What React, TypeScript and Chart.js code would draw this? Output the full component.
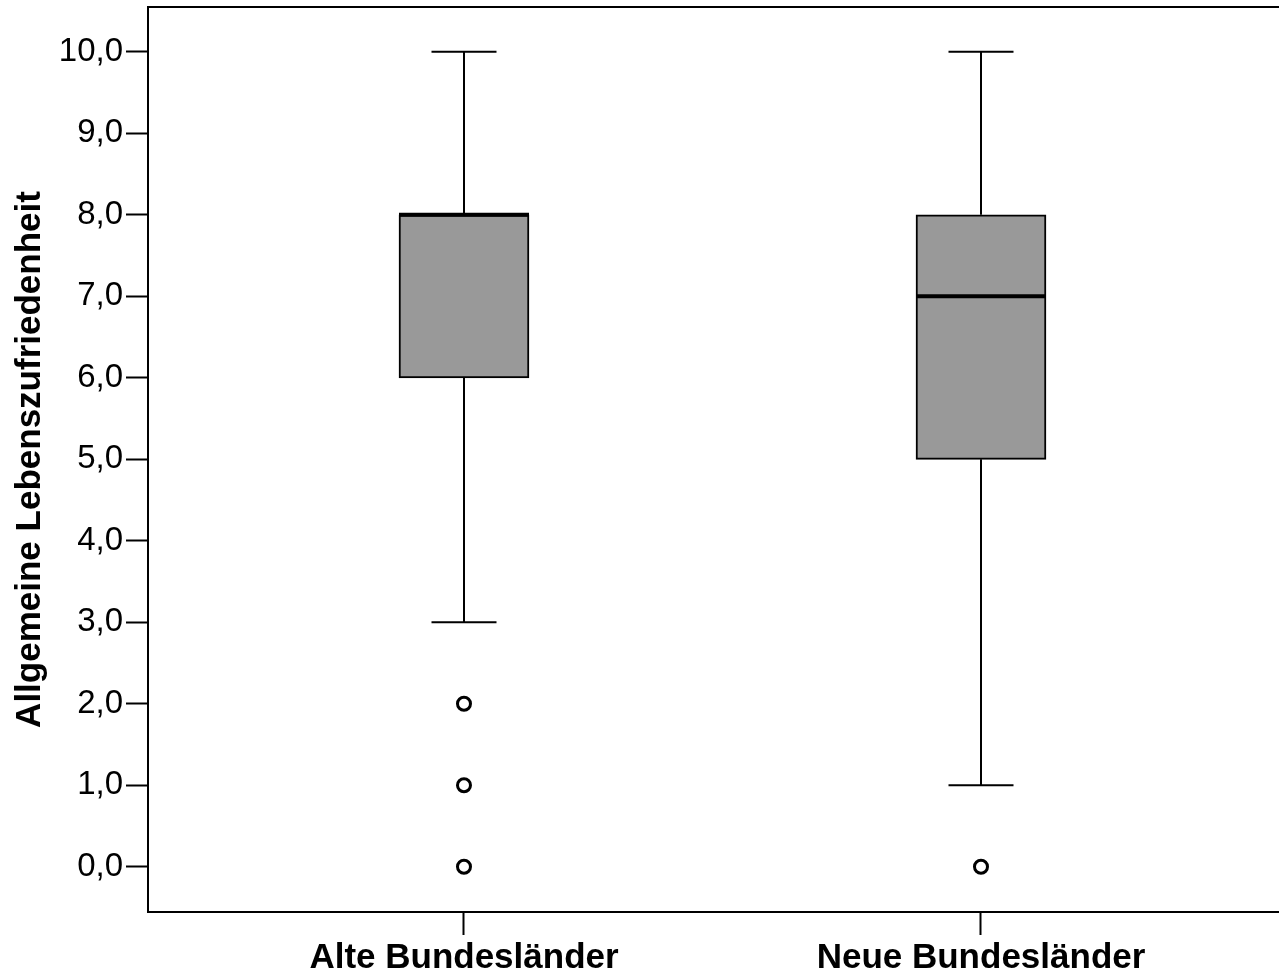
import { useEffect, useRef } from 'react';
import { Chart, registerables } from 'chart.js';

Chart.register(...registerables);

// Group labels and their positions on the x axis
const categories = ['Alte Bundesländer', 'Neue Bundesländer'];
const groupPositions = [1, 2];

// Box plot statistics per group
const whiskerLow = [3, 1];
const quartile1 = [6, 5];
const medians = [8, 7];
const quartile3 = [8, 8];
const whiskerHigh = [10, 10];

// Outliers per group
const outliersAlte = [2, 1, 0];
const outliersNeue = [0];

// Value axis ticks
const yTicks = [0, 1, 2, 3, 4, 5, 6, 7, 8, 9, 10];

const FONT = "'Liberation Sans', Arial, Helvetica, sans-serif";

// Drop the label-overflow padding so the plot area keeps its fixed size
const clearPadding = (s: any) => {
  s.paddingTop = 0;
  s.paddingBottom = 0;
  s.paddingLeft = 0;
  s.paddingRight = 0;
};

// Draws whiskers, caps, medians and the top frame line
const boxplotParts = {
  id: 'boxplotParts',
  afterDatasetsDraw(chart: any) {
    const { ctx, chartArea, scales } = chart;
    const x = scales.x;
    const y = scales.y;
    const boxes = chart.getDatasetMeta(0).data;
    ctx.save();
    ctx.strokeStyle = '#000';
    ctx.lineCap = 'butt';
    groupPositions.forEach((pos, i) => {
      const cx = Math.round(x.getPixelForValue(pos));
      const half = boxes[i].width / 2;
      const capHalf = half / 2;
      const yLow = y.getPixelForValue(whiskerLow[i]);
      const yQ1 = y.getPixelForValue(quartile1[i]);
      const yMed = y.getPixelForValue(medians[i]);
      const yQ3 = y.getPixelForValue(quartile3[i]);
      const yHigh = y.getPixelForValue(whiskerHigh[i]);

      ctx.lineWidth = 2;
      ctx.beginPath();
      ctx.moveTo(cx, yQ3);
      ctx.lineTo(cx, yHigh);
      ctx.moveTo(cx - capHalf, yHigh);
      ctx.lineTo(cx + capHalf, yHigh);
      ctx.moveTo(cx, yQ1);
      ctx.lineTo(cx, yLow);
      ctx.moveTo(cx - capHalf, yLow);
      ctx.lineTo(cx + capHalf, yLow);
      ctx.stroke();

      ctx.lineWidth = 4;
      ctx.beginPath();
      ctx.moveTo(cx - half, yMed);
      ctx.lineTo(cx + half, yMed);
      ctx.stroke();
    });

    ctx.lineWidth = 2;
    ctx.beginPath();
    ctx.moveTo(chartArea.left - 1, chartArea.top);
    ctx.lineTo(chartArea.right, chartArea.top);
    ctx.stroke();
    ctx.restore();
  },
};

export default function App() {
  const canvasRef = useRef<HTMLCanvasElement | null>(null);

  useEffect(() => {
    if (!canvasRef.current) return;
    Chart.defaults.font.family = FONT;

    const boxData = groupPositions.map((p, i) => ({ x: p, y: [quartile1[i], quartile3[i]] }));
    const outlierData = [
      ...outliersAlte.map((v) => ({ x: groupPositions[0], y: v })),
      ...outliersNeue.map((v) => ({ x: groupPositions[1], y: v })),
    ];

    const chart = new Chart(canvasRef.current, {
      type: 'bar',
      data: {
        datasets: [
          {
            type: 'bar',
            data: boxData as any,
            backgroundColor: '#999999',
            borderColor: '#000000',
            borderWidth: 2,
            borderSkipped: false,
            barThickness: 130,
          } as any,
          {
            type: 'scatter',
            data: outlierData,
            pointStyle: 'circle',
            pointRadius: 6.5,
            pointBorderWidth: 3,
            pointBackgroundColor: '#ffffff',
            pointBorderColor: '#000000',
            showLine: false,
          } as any,
        ],
      },
      options: {
        animation: false,
        responsive: false,
        devicePixelRatio: 1,
        layout: { autoPadding: false, padding: { top: 7, left: 0, right: 0, bottom: 0 } },
        plugins: {
          legend: { display: false },
          tooltip: { enabled: false },
        },
        scales: {
          x: {
            type: 'linear',
            offset: false,
            min: 0.3888,
            max: 2.5764,
            afterBuildTicks: (s: any) => {
              s.ticks = groupPositions.map((v) => ({ value: v }));
            },
            afterFit: (s: any) => {
              s.height = 66;
              clearPadding(s);
            },
            ticks: {
              autoSkip: false,
              maxRotation: 0,
              padding: 2,
              color: '#000',
              font: { family: FONT, size: 35, weight: 'bold' },
              callback: (v: any) => categories[groupPositions.indexOf(Number(v))],
            },
            grid: {
              offset: false,
              drawOnChartArea: false,
              drawTicks: true,
              tickLength: 23,
              tickWidth: 2,
              tickColor: '#000',
            },
            border: { display: true, color: '#000', width: 2 },
          },
          y: {
            type: 'linear',
            min: -0.555,
            max: 10.55,
            afterBuildTicks: (s: any) => {
              s.ticks = yTicks.map((v) => ({ value: v }));
            },
            afterFit: (s: any) => {
              s.width = 148;
              clearPadding(s);
            },
            ticks: {
              padding: 3,
              color: '#000',
              font: { family: FONT, size: 33 },
              callback: (v: any) => Number(v).toFixed(1).replace('.', ','),
            },
            grid: {
              drawOnChartArea: false,
              drawTicks: true,
              tickLength: 22,
              tickWidth: 2,
              tickColor: '#000',
            },
            border: { display: true, color: '#000', width: 2 },
            title: {
              display: true,
              text: 'Allgemeine Lebenszufriedenheit',
              color: '#000',
              font: { family: FONT, size: 35, weight: 'bold' },
              padding: { top: 9, bottom: 0 },
            },
          },
        },
      },
      plugins: [boxplotParts],
    });

    return () => chart.destroy();
  }, []);

  return (
    <div style={{ position: 'absolute', left: 0, top: 0, width: 1279, height: 978, background: '#fff' }}>
      <canvas ref={canvasRef} width={1279} height={978} />
    </div>
  );
}
